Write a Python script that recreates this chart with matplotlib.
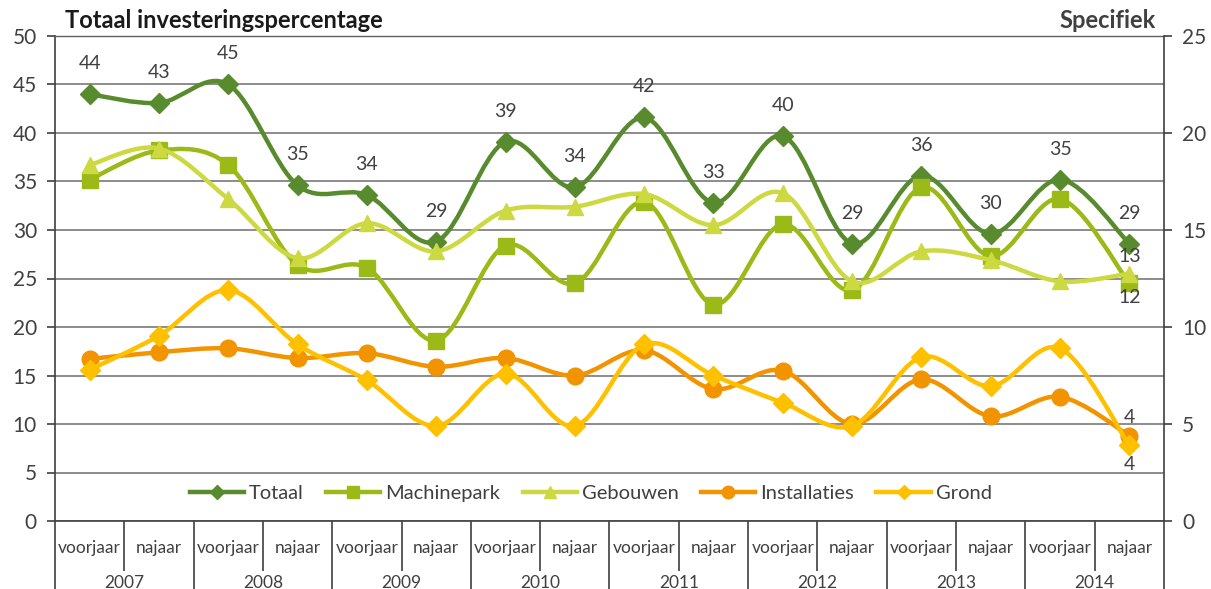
"""
Investeringspercentage per half jaar, totaal en specifiek, met vloeiende lijnen.
"""

import matplotlib
matplotlib.use("Agg")
import matplotlib.pyplot as plt
import numpy as np
from matplotlib.path import Path
from matplotlib.patches import PathPatch
from matplotlib.lines import Line2D

plt.rcParams["font.family"] = ["Lato", "DejaVu Sans"]

# Data
years = ["2007", "2008", "2009", "2010", "2011", "2012", "2013", "2014"]
seasons = ["voorjaar", "najaar"]

totaal = [44.0, 43.1, 45.0, 34.6, 33.6, 28.8, 39.1, 34.4,
          41.6, 32.8, 39.7, 28.6, 35.6, 29.6, 35.2, 28.6]
machinepark = [17.6, 19.1, 18.35, 13.2, 13.05, 9.3, 14.2, 12.25,
               16.45, 11.15, 15.3, 11.9, 17.2, 13.65, 16.6, 12.25]
gebouwen = [18.35, 19.2, 16.6, 13.55, 15.35, 13.9, 16.0, 16.2,
            16.85, 15.25, 16.9, 12.35, 13.9, 13.45, 12.35, 12.75]
installaties = [8.35, 8.7, 8.9, 8.4, 8.65, 7.95, 8.4, 7.5,
                8.8, 6.8, 7.75, 5.0, 7.3, 5.4, 6.4, 4.4]
grond = [7.8, 9.55, 11.9, 9.1, 7.25, 4.9, 7.6, 4.9,
         9.1, 7.5, 6.1, 4.9, 8.45, 6.95, 8.9, 3.9]

TEXT = "#404040"


def smooth_path(x, y):
    """Excel-like smoothed line: cubic Bezier segments through every point."""
    pts = np.column_stack([x, y]).astype(float)
    ext = np.vstack([pts[0], pts, pts[-1]])
    verts = [pts[0]]
    codes = [Path.MOVETO]
    for i in range(len(pts) - 1):
        p0, p1, p2, p3 = ext[i], ext[i + 1], ext[i + 2], ext[i + 3]
        c1 = p1 + (p2 - p0) / 6.0
        c2 = p2 - (p3 - p1) / 6.0
        verts += [c1, c2, p2]
        codes += [Path.CURVE4] * 3
    return Path(verts, codes)


def draw_series(ax, values, color, marker, ms, z):
    """Draws a smoothed line plus its markers on the given axes."""
    x = np.arange(len(values))
    patch = PathPatch(smooth_path(x, values), facecolor="none", edgecolor=color,
                      lw=3.2, capstyle="round", joinstyle="round", zorder=z)
    ax.add_patch(patch)
    ax.plot(x, values, ls="none", marker=marker, ms=ms, color=color,
            mec=color, zorder=z + 0.1)
    return Line2D([], [], color=color, lw=3.2, marker=marker, ms=ms * 0.75)


fig = plt.figure(figsize=(12.11, 5.89), dpi=100)
ax = fig.add_axes([55 / 1211, 68 / 589, 1109 / 1211, 485 / 589])
ax2 = ax.twinx()

n = len(totaal)
ax.set_xlim(-0.5, n - 0.5)
ax.set_ylim(0, 50)
ax2.set_ylim(0, 25)
ax.set_yticks(np.arange(0, 51, 5))
ax2.set_yticks(np.arange(0, 26, 5))
ax.grid(axis="y", color="#8c8c8c", lw=1.4)
ax.set_axisbelow(True)

for a in (ax, ax2):
    for side in ("left", "right", "bottom", "top"):
        a.spines[side].set_color(TEXT)
        a.spines[side].set_linewidth(1.2)
    a.tick_params(axis="y", colors=TEXT, labelsize=15, length=6, width=1.2,
                  direction="out", pad=7)
ax.spines["right"].set_visible(False)
ax2.spines["left"].set_visible(False)
ax2.spines["bottom"].set_visible(False)
ax.spines["top"].set_color("#606060")
ax.spines["top"].set_linewidth(1.0)
ax2.spines["top"].set_visible(False)

# Two-level category axis: separators as ticks, labels as text
ax.set_xticks(np.arange(-0.5, n, 2))
ax.set_xticks(np.arange(0.5, n, 2), minor=True)
ax.tick_params(axis="x", which="major", length=50, width=1.2, color=TEXT,
               labelbottom=False)
ax.tick_params(axis="x", which="minor", length=36, width=1.2, color=TEXT,
               labelbottom=False)
xt = ax.get_xaxis_transform()
for i in range(n):
    ax.text(i, -0.056, seasons[i % 2], transform=xt, ha="center", va="center",
            fontsize=12.5, color=TEXT, clip_on=False)
for j, yr in enumerate(years):
    ax.text(2 * j + 0.5, -0.128, yr, transform=xt, ha="center", va="center",
            fontsize=12.5, color=TEXT, clip_on=False)

handles = [
    draw_series(ax, totaal, "#588a2e", "D", 10, 3),
    draw_series(ax2, machinepark, "#9bba18", "s", 11, 3),
    draw_series(ax2, gebouwen, "#ccd940", "^", 12, 4),
    draw_series(ax2, installaties, "#f29300", "o", 12, 5),
    draw_series(ax2, grond, "#ffc000", "D", 10, 6),
]
labels = ["Totaal", "Machinepark", "Gebouwen", "Installaties", "Grond"]

# Data labels
for i, v in enumerate(totaal):
    ax.annotate(f"{v:.0f}", (i, v), xytext=(0, 22), textcoords="offset points",
                ha="center", va="center", fontsize=14, color=TEXT)
last = n - 1
for vals, dy in ((gebouwen, 12), (machinepark, -10), (installaties, 13), (grond, -14)):
    ax2.annotate(f"{vals[last]:.0f}", (last, vals[last]), xytext=(0, dy),
                 textcoords="offset points", ha="center", va="center",
                 fontsize=14, color=TEXT, zorder=10)

ax2.legend(handles, labels, loc="center", bbox_to_anchor=(0.483, 0.056),
           ncol=5, frameon=False, fontsize=14.5, handlelength=2.7,
           handletextpad=0.25, columnspacing=1.1, labelcolor=TEXT)

fig.text(65 / 1211, 1 - 20 / 589, "Totaal investeringspercentage",
         fontsize=17, fontweight="bold", color="#1a1a1a", va="center", ha="left")
fig.text(1156 / 1211, 1 - 21 / 589, "Specifiek", fontsize=17,
         fontweight="bold", color=TEXT, va="center", ha="right")

fig.savefig("out.png", dpi=100)
